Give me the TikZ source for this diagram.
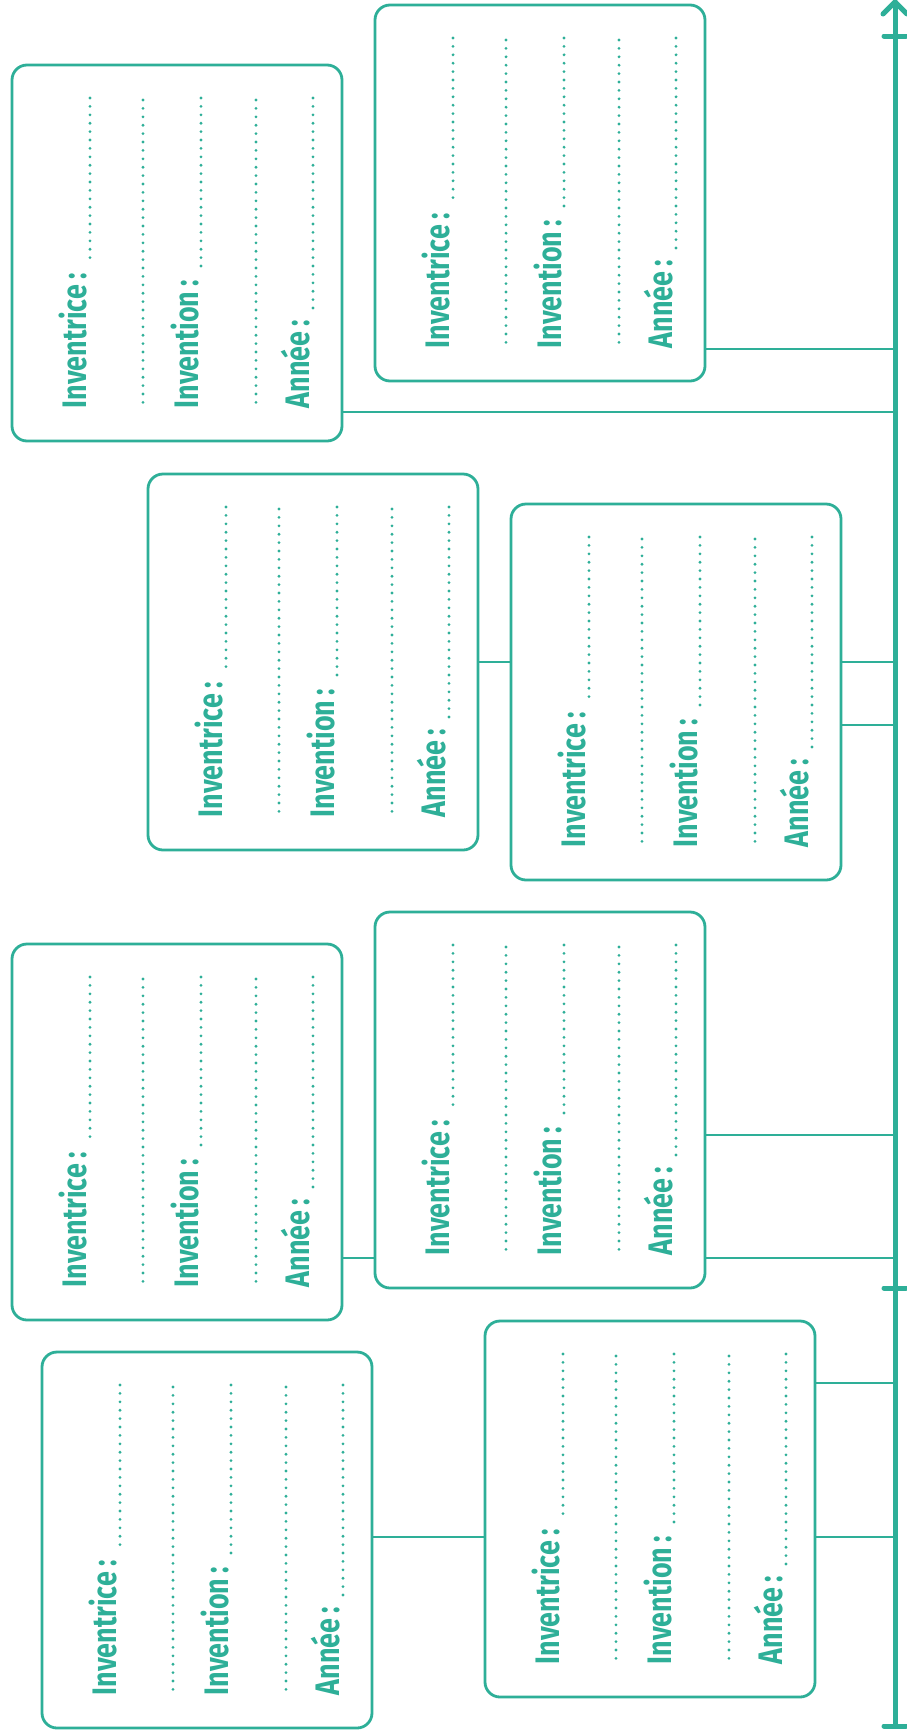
\documentclass[tikz,border=0pt]{standalone}
\usepackage{fontspec}
\newfontfamily\dinf[FakeStretch=0.79]{Fira Sans}
\usetikzlibrary{calc}
\definecolor{teal1}{RGB}{46,175,152}
\tikzset{
  boxst/.style={draw=teal1, line width=2.8pt, rounded corners=15pt, minimum width=330pt, minimum height=376pt, inner sep=0pt, outer sep=0pt},
  lbl/.style={rotate=90, inner sep=0pt, outer sep=0pt, text=teal1, font=\dinf\bfseries\fontsize{34}{34}\selectfont},
  dotline/.style={draw=teal1, line width=3.1pt, line cap=round, dash pattern=on 0pt off 8.4pt},
  conn/.style={draw=teal1, line width=2.8pt},
  tl/.style={draw=teal1, line width=5pt, line cap=round, line join=round},
}
\newcommand\ibox[3]{%
  \node[boxst] (#1) at ({#2+165},{#3+188}) {};
  \node[lbl, anchor=base west] (#1a) at ({#2+74},{#3+343}) {Inventrice\hspace{0.16em}:};
  \node[lbl, anchor=base west] (#1b) at ({#2+186},{#3+343}) {Invention\hspace{0.16em}:};
  \node[lbl, anchor=base west] (#1c) at ({#2+297},{#3+343}) {Année\hspace{0.16em}:};
  \coordinate (#1ta) at ({#2+78},{#3+33});
  \coordinate (#1tb) at ({#2+189},{#3+33});
  \coordinate (#1tc) at ({#2+301},{#3+33});
  \draw[dotline] (#1ta) -- ($(#1ta |- #1a.base east)+(0,-9)$);
  \draw[dotline] (#1tb) -- ($(#1tb |- #1b.base east)+(0,-9)$);
  \draw[dotline] (#1tc) -- ($(#1tc |- #1c.base east)+(0,-9)$);
  \draw[dotline] ({#2+131},{#3+35}) -- ({#2+131},{#3+343});
  \draw[dotline] ({#2+244},{#3+35}) -- ({#2+244},{#3+343});
}
\begin{document}
\begin{tikzpicture}[x=1pt,y=-1pt]
\fill[white] (0,0) rectangle (906,1730);
\useasboundingbox (0,0) rectangle (906,1730);
\ibox{A}{12}{65}
\ibox{B}{375}{5}
\ibox{C}{148}{474}
\ibox{D}{511}{504}
\ibox{E}{12}{944}
\ibox{F}{375}{912}
\ibox{G}{42}{1352}
\ibox{H}{485}{1321}
% timeline points
\coordinate (tA) at (895,412);
\coordinate (tB) at (895,349);
\coordinate (tD1) at (895,662);
\coordinate (tD2) at (895,725);
\coordinate (tF1) at (895,1135);
\coordinate (tF2) at (895,1258);
\coordinate (tH1) at (895,1383);
\coordinate (tH2) at (895,1537);
\coordinate (cd) at (495,662);
\coordinate (ef) at (358,1258);
\coordinate (gh) at (428,1537);
% connectors
\draw[conn] (A.east |- tA) -- (tA);
\draw[conn] (B.east |- tB) -- (tB);
\draw[conn] (C.east |- cd) -- (D.west |- cd);
\draw[conn] (D.east |- tD1) -- (tD1);
\draw[conn] (D.east |- tD2) -- (tD2);
\draw[conn] (E.east |- ef) -- (F.west |- ef);
\draw[conn] (F.east |- tF1) -- (tF1);
\draw[conn] (F.east |- tF2) -- (tF2);
\draw[conn] (G.east |- gh) -- (H.west |- gh);
\draw[conn] (H.east |- tH1) -- (tH1);
\draw[conn] (H.east |- tH2) -- (tH2);
% timeline
\coordinate (tbot) at (895,1726);
\coordinate (ttop) at (895,2);
\draw[tl] (tbot) -- (ttop);
\draw[tl] (883,14) -- (ttop) -- (907,14);
\draw[tl] (884,36) -- (906,36);
\draw[tl] (884,1288) -- (906,1288);
\draw[tl] (884,1726) -- (906,1726);
\end{tikzpicture}
\end{document}
